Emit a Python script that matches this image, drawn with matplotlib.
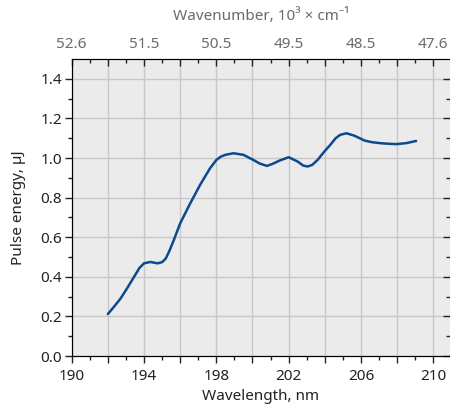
import matplotlib
matplotlib.use("Agg")
import matplotlib.pyplot as plt
import numpy as np

plt.rcParams['font.family'] = ['Noto Sans', 'DejaVu Sans']

# pulse energy vs wavelength
wavelength = [192.0, 192.35, 192.7, 193.05, 193.45, 193.75, 194.0, 194.35, 194.75,
              195.0, 195.2, 195.4, 195.65, 196.0, 196.55, 197.1, 197.65, 198.0,
              198.25, 198.5, 198.95, 199.5, 200.05, 200.4, 200.8, 201.1, 201.5,
              202.0, 202.5, 202.8, 203.05, 203.3, 203.6, 203.95, 204.3, 204.6,
              204.85, 205.2, 205.65, 206.2, 206.6, 207.05, 207.5, 207.95, 208.5,
              209.05]
energy = [0.212, 0.25, 0.29, 0.34, 0.40, 0.445, 0.468, 0.475, 0.468,
          0.474, 0.492, 0.53, 0.586, 0.67, 0.77, 0.864, 0.948, 0.99,
          1.007, 1.016, 1.024, 1.016, 0.99, 0.972, 0.96, 0.97, 0.987,
          1.004, 0.982, 0.962, 0.957, 0.965, 0.99, 1.03, 1.066, 1.10,
          1.117, 1.125, 1.112, 1.088, 1.08, 1.075, 1.072, 1.07, 1.075,
          1.086]

x_major = np.arange(190, 211, 2)
x_labeled = [190, 194, 198, 202, 206, 210]
y_major = np.arange(0, 1.41, 0.2)

dark = "#222222"
grey = "#6b6b6b"
fs = 11

fig = plt.figure(figsize=(4.5, 4.05), dpi=100)
ax = fig.add_axes([71.7 / 450, 1 - 356 / 405, (450 - 71.7) / 450, (356 - 59) / 405])
ax.set_facecolor("#ebebeb")

ax.plot(wavelength, energy, color="#0b4a8c", lw=1.8, solid_capstyle="round",
        solid_joinstyle="round", zorder=3)

ax.set_xlim(190, 190 + (450 - 71.7) / 18.08)
ax.set_ylim(0, 1.5)

ax.set_xticks(x_major)
ax.set_xticklabels([str(v) if v in x_labeled else "" for v in x_major])
ax.set_xticks(np.arange(191, 211, 2), minor=True)
ax.set_yticks(y_major)
ax.set_yticklabels(["%.1f" % v for v in y_major])
ax.set_yticks(np.arange(0.1, 1.5, 0.2), minor=True)

ax.grid(True, which="major", color="#c8c8c8", lw=1.0)
ax.set_axisbelow(True)

ax.tick_params(axis="both", which="major", direction="out", length=5, width=1,
               labelsize=fs, colors=dark, pad=2)
ax.tick_params(axis="x", which="major", pad=4)
ax.tick_params(axis="both", which="minor", direction="out", length=3, width=1, colors=dark)
for s in ["left", "bottom", "top"]:
    ax.spines[s].set_color(dark)
ax.spines["right"].set_visible(False)

ax.set_xlabel("Wavelength, nm", fontsize=fs, color=dark, labelpad=4)
ax.set_ylabel("Pulse energy, µJ", fontsize=fs, color=dark, labelpad=10)

# top axis in wavenumber (10^3 cm^-1)
top = ax.twiny()
top.set_xlim(ax.get_xlim())
top.set_xticks(x_major)
top.set_xticklabels(["%.1f" % (1e4 / v) if v in x_labeled else "" for v in x_major])
top.set_xticks(np.arange(191, 211, 2), minor=True)
top.tick_params(axis="x", which="major", direction="in", length=5, width=1,
                labelsize=fs, labelcolor=grey, color=dark, pad=5)
top.tick_params(axis="x", which="minor", direction="in", length=3, width=1, color=dark)
top.spines["right"].set_visible(False)
top.set_xlabel("Wavenumber, 10³ × cm⁻¹", fontsize=fs, color=grey, labelpad=12)

# right side ticks point inward
ax.tick_params(axis="y", which="both", right=True)
for t in ax.yaxis.get_major_ticks() + ax.yaxis.get_minor_ticks():
    t.tick2line.set_marker(matplotlib.lines.TICKLEFT)

fig.savefig("out.png", dpi=100)
